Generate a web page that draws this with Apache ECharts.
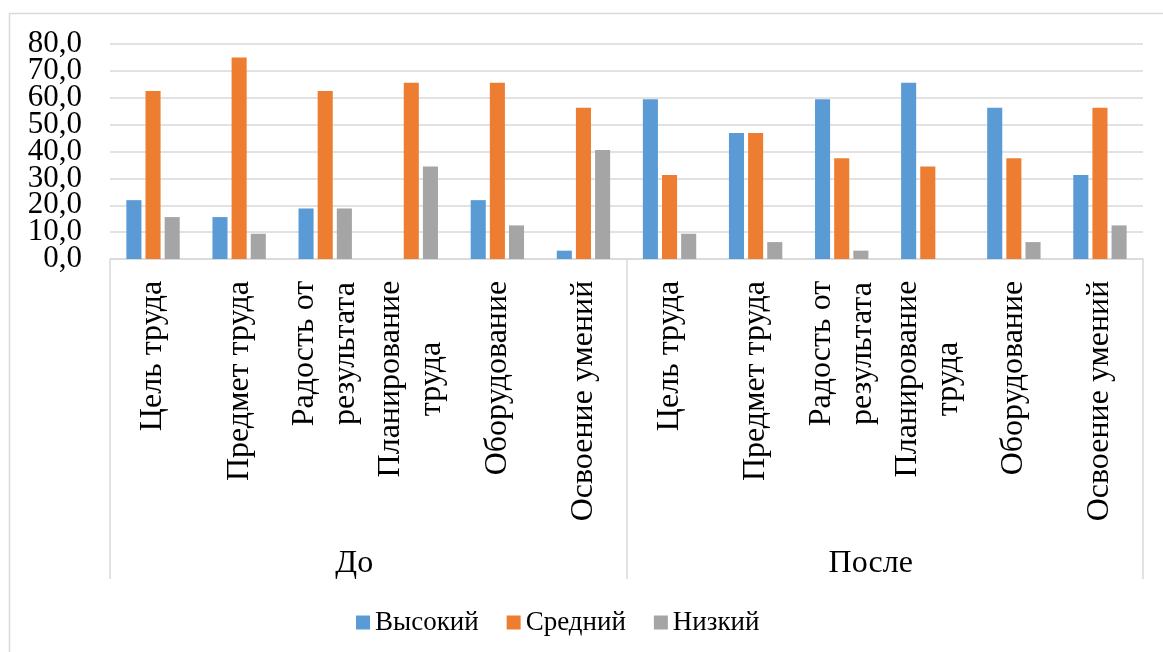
<!DOCTYPE html>
<html>
<head>
<meta charset="utf-8">
<script src="https://cdn.jsdelivr.net/npm/echarts@6/dist/echarts.min.js"></script>
<style>
  html, body { margin: 0; padding: 0; background: #fff; }
  #chart { width: 1163px; height: 652px; }
</style>
</head>
<body>
<div id="chart"></div>
<script>
// ---- data ----
const groups = ['До', 'После'];
const subCategories = ['Цель труда', 'Предмет труда', 'Радость от\nрезультата', 'Планирование\nтруда', 'Оборудование', 'Освоение умений'];
const seriesNames = ['Высокий', 'Средний', 'Низкий'];
const high = [21.9, 15.6, 18.8, 0, 21.9, 3.1, 59.4, 46.9, 59.4, 65.6, 56.3, 31.3];
const mid  = [62.5, 75.0, 62.5, 65.6, 65.6, 56.3, 31.3, 46.9, 37.5, 34.4, 37.5, 56.3];
const low  = [15.6, 9.4, 18.8, 34.4, 12.5, 40.6, 9.4, 6.3, 3.1, 0, 6.3, 12.5];
const yTicks = [0, 10, 20, 30, 40, 50, 60, 70, 80];

// ---- build ----
const FONT = '"Liberation Serif", "Times New Roman", serif';
const FS = 32;
const LH = 41;
const categories = [];
groups.forEach(() => subCategories.forEach(c => categories.push(c)));

const ctx = document.createElement('canvas').getContext('2d');
ctx.font = FS + 'px ' + FONT;
const rich = {};
categories.forEach((c, i) => {
  const lines = c.split('\n');
  const w = Math.max(...lines.map(l => ctx.measureText(l).width));
  rich['c' + i] = { width: Math.ceil(w) + 1, align: 'center', fontSize: FS, fontFamily: FONT, color: '#000', lineHeight: LH };
});

const chart = echarts.init(document.getElementById('chart'), null, { renderer: 'canvas' });
const gridColor = '#d9d9d9';
chart.setOption({
  animation: false,
  backgroundColor: '#fff',
  textStyle: { fontFamily: FONT },
  graphic: [{
    type: 'rect', shape: { x: 9.5, y: 13.5, width: 1300, height: 800 },
    style: { fill: 'none', stroke: gridColor, lineWidth: 1.5 }, silent: true
  }],
  grid: { left: 110, right: 20, top: 44, bottom: 393, containLabel: false },
  legend: {
    data: seriesNames, left: 351, top: 604, icon: 'rect', itemWidth: 14, itemHeight: 14, itemGap: 28,
    textStyle: { fontSize: 27, fontFamily: FONT, color: '#000' }
  },
  xAxis: [{
    type: 'category', data: categories, position: 'bottom',
    axisLine: { lineStyle: { color: gridColor, width: 1.5 } },
    axisTick: { show: false },
    axisLabel: {
      interval: 0, rotate: 90, margin: 21, fontSize: FS, fontFamily: FONT, color: '#000', lineHeight: LH,
      formatter: (v, i) => v.split('\n').map(l => '{c' + i + '|' + l + '}').join('\n'),
      rich: rich
    }
  }, {
    type: 'category', data: groups, position: 'bottom',
    axisLine: { show: false },
    axisTick: { show: true, length: 320, lineStyle: { color: gridColor, width: 1.5 } },
    axisLabel: { margin: 289, fontSize: FS, fontFamily: FONT, color: '#000', padding: [0, 28, 0, 0] }
  }],
  yAxis: [{
    type: 'value', min: yTicks[0], max: yTicks[yTicks.length - 1], interval: yTicks[1] - yTicks[0],
    position: 'left',
    axisLine: { show: false }, axisTick: { show: false },
    splitLine: { lineStyle: { color: gridColor, width: 1.5 } },
    axisLabel: { show: false }
  }, {
    type: 'category', data: yTicks.map(v => v.toFixed(1).replace('.', ',')), boundaryGap: false,
    position: 'left', offset: 0,
    axisLine: { show: false }, axisTick: { show: false }, splitLine: { show: false },
    axisLabel: { interval: 0, margin: 28, fontSize: 31, fontFamily: FONT, color: '#000' }
  }],
  series: [
    { name: seriesNames[0], type: 'bar', yAxisIndex: 0, data: high, itemStyle: { color: '#5B9BD5' }, barGap: '27%', barCategoryGap: '38%' },
    { name: seriesNames[1], type: 'bar', yAxisIndex: 0, data: mid, itemStyle: { color: '#ED7D31' }, barGap: '27%', barCategoryGap: '38%' },
    { name: seriesNames[2], type: 'bar', yAxisIndex: 0, data: low, itemStyle: { color: '#A5A5A5' }, barGap: '27%', barCategoryGap: '38%' }
  ]
});
</script>
</body>
</html>
